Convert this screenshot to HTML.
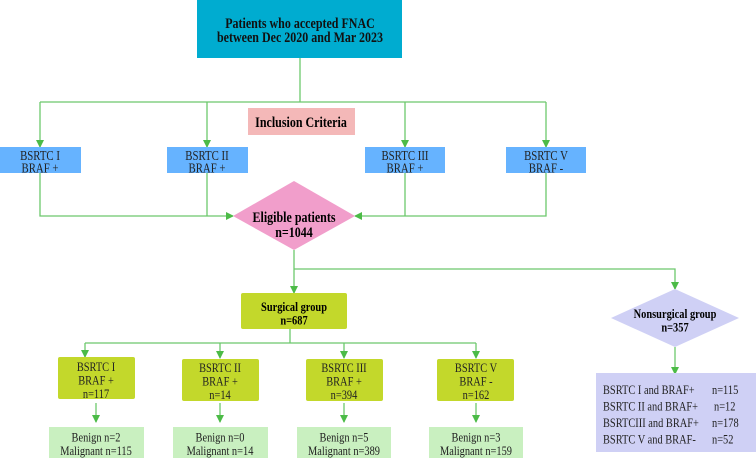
<!DOCTYPE html>
<html><head><meta charset="utf-8"><style>
html,body{margin:0;padding:0;background:#fff;}
svg, svg text{font-family:"Liberation Serif","DejaVu Serif",serif;}
svg{display:block;}
</style></head><body>
<svg width="756" height="458" viewBox="0 0 756 458" xmlns="http://www.w3.org/2000/svg" font-family="Liberation Serif, serif">
<defs>
<marker id="a" markerWidth="8" markerHeight="8" refX="7" refY="4" orient="auto" markerUnits="userSpaceOnUse">
<path d="M0,0 L8,4 L0,8 z" fill="#4cbb47"/></marker>
</defs>
<g stroke="#6cc86c" stroke-width="1.3" fill="none">
<line x1="300" y1="58" x2="300" y2="102"/>
<line x1="40" y1="102" x2="546" y2="102"/>
<line x1="40" y1="102" x2="40" y2="147" marker-end="url(#a)"/>
<line x1="207" y1="102" x2="207" y2="147" marker-end="url(#a)"/>
<line x1="405" y1="102" x2="405" y2="147" marker-end="url(#a)"/>
<line x1="546" y1="102" x2="546" y2="147" marker-end="url(#a)"/>
<polyline points="40,173 40,216 233,216" marker-end="url(#a)"/>
<line x1="207" y1="173" x2="207" y2="216"/>
<polyline points="546,173 546,216 355,216" marker-end="url(#a)"/>
<line x1="405" y1="173" x2="405" y2="216"/>
<line x1="294" y1="250" x2="294" y2="293" marker-end="url(#a)"/>
<polyline points="294,269 675,269 675,289" marker-end="url(#a)"/>
<line x1="675" y1="347" x2="675" y2="374" marker-end="url(#a)"/>
<line x1="290" y1="329" x2="290" y2="343"/>
<line x1="85" y1="343" x2="476" y2="343"/>
<line x1="85" y1="343" x2="85" y2="357" marker-end="url(#a)"/>
<line x1="220" y1="343" x2="220" y2="358" marker-end="url(#a)"/>
<line x1="344" y1="343" x2="344" y2="358" marker-end="url(#a)"/>
<line x1="476" y1="343" x2="476" y2="358" marker-end="url(#a)"/>
<line x1="96" y1="403" x2="96" y2="422" marker-end="url(#a)"/>
<line x1="220" y1="403" x2="220" y2="422" marker-end="url(#a)"/>
<line x1="344" y1="403" x2="344" y2="422" marker-end="url(#a)"/>
<line x1="476" y1="403" x2="476" y2="422" marker-end="url(#a)"/>
</g>
<rect x="197" y="0" width="205" height="58" fill="#00acd0"/>
<g font-weight="bold" font-size="15" text-anchor="middle" fill="#111">
<text transform="translate(300,28) scale(0.8,1)">Patients who accepted FNAC</text>
<text transform="translate(300,42) scale(0.8,1)">between Dec 2020 and Mar 2023</text>
</g>
<rect x="248" y="108" width="107" height="27" fill="#f4b8b8"/>
<text transform="translate(301,127) scale(0.8,1)" font-weight="bold" font-size="15" text-anchor="middle">Inclusion Criteria</text>
<g fill="#66b3ff">
<rect x="0" y="147" width="81" height="26"/>
<rect x="167" y="147" width="81" height="26"/>
<rect x="365" y="147" width="80" height="26"/>
<rect x="506" y="147" width="80" height="26"/>
</g>
<g font-size="13.5" text-anchor="middle" fill="#222">
<text transform="translate(40,160) scale(0.8,1)">BSRTC I</text><text transform="translate(40,172.5) scale(0.8,1)">BRAF +</text>
<text transform="translate(207,160) scale(0.8,1)">BSRTC II</text><text transform="translate(207,172.5) scale(0.8,1)">BRAF +</text>
<text transform="translate(405,160) scale(0.8,1)">BSRTC III</text><text transform="translate(405,172.5) scale(0.8,1)">BRAF +</text>
<text transform="translate(546,160) scale(0.8,1)">BSRTC V</text><text transform="translate(546,172.5) scale(0.8,1)">BRAF -</text>
</g>
<polygon points="294,181 355,216 294,250 233,216" fill="#f19ecb"/>
<g font-weight="bold" font-size="15" text-anchor="middle">
<text transform="translate(294,222) scale(0.8,1)">Eligible patients</text>
<text transform="translate(294,237) scale(0.8,1)">n=1044</text>
</g>
<rect x="241" y="293" width="106" height="36" rx="2" fill="#c3d82b"/>
<g font-weight="bold" font-size="13" text-anchor="middle">
<text transform="translate(294,311) scale(0.8,1)">Surgical group</text>
<text transform="translate(294,324.5) scale(0.8,1)">n=687</text>
</g>
<polygon points="675,289 739,318 675,347 611,318" fill="#cfd0f5"/>
<g font-weight="bold" font-size="13" text-anchor="middle">
<text transform="translate(675,318) scale(0.8,1)">Nonsurgical group</text>
<text transform="translate(675,331.5) scale(0.8,1)">n=357</text>
</g>
<g fill="#c3d82b">
<rect x="58" y="357" width="77" height="42" rx="2"/>
<rect x="182" y="359" width="77" height="42" rx="2"/>
<rect x="306" y="359" width="77" height="42" rx="2"/>
<rect x="437" y="359" width="77" height="42" rx="2"/>
</g>
<g font-size="13" text-anchor="middle" fill="#222">
<text transform="translate(96,371) scale(0.8,1)">BSRTC I</text><text transform="translate(96,384.5) scale(0.8,1)">BRAF +</text><text transform="translate(96,398) scale(0.8,1)">n=117</text>
<text transform="translate(220,372) scale(0.8,1)">BSRTC II</text><text transform="translate(220,385.5) scale(0.8,1)">BRAF +</text><text transform="translate(220,399) scale(0.8,1)">n=14</text>
<text transform="translate(344,372) scale(0.8,1)">BSRTC III</text><text transform="translate(344,385.5) scale(0.8,1)">BRAF +</text><text transform="translate(344,399) scale(0.8,1)">n=394</text>
<text transform="translate(476,372) scale(0.8,1)">BSRTC V</text><text transform="translate(476,385.5) scale(0.8,1)">BRAF -</text><text transform="translate(476,399) scale(0.8,1)">n=162</text>
</g>
<g fill="#c9f0c0">
<rect x="49" y="427" width="95" height="31"/>
<rect x="173" y="427" width="95" height="31"/>
<rect x="297" y="427" width="94" height="31"/>
<rect x="429" y="427" width="94" height="31"/>
</g>
<g font-size="13" text-anchor="middle" fill="#222">
<text transform="translate(96,441.5) scale(0.8,1)">Benign n=2</text><text transform="translate(96,455) scale(0.8,1)">Malignant n=115</text>
<text transform="translate(220,441.5) scale(0.8,1)">Benign n=0</text><text transform="translate(220,455) scale(0.8,1)">Malignant n=14</text>
<text transform="translate(344,441.5) scale(0.8,1)">Benign n=5</text><text transform="translate(344,455) scale(0.8,1)">Malignant n=389</text>
<text transform="translate(476,441.5) scale(0.8,1)">Benign n=3</text><text transform="translate(476,455) scale(0.8,1)">Malignant n=159</text>
</g>
<rect x="596" y="373" width="160" height="79" fill="#cfd0f5"/>
<g font-size="13" fill="#222">
<text transform="translate(603,394) scale(0.8,1)">BSRTC I and BRAF+</text><text transform="translate(712,394) scale(0.8,1)">n=115</text>
<text transform="translate(603,410.5) scale(0.8,1)">BSRTC II and BRAF+</text><text transform="translate(714,410.5) scale(0.8,1)">n=12</text>
<text transform="translate(603,427) scale(0.8,1)">BSRTCIII and BRAF+</text><text transform="translate(712,427) scale(0.8,1)">n=178</text>
<text transform="translate(603,443.5) scale(0.8,1)">BSRTC V and BRAF-</text><text transform="translate(712,443.5) scale(0.8,1)">n=52</text>
</g>
</svg>
</body></html>
